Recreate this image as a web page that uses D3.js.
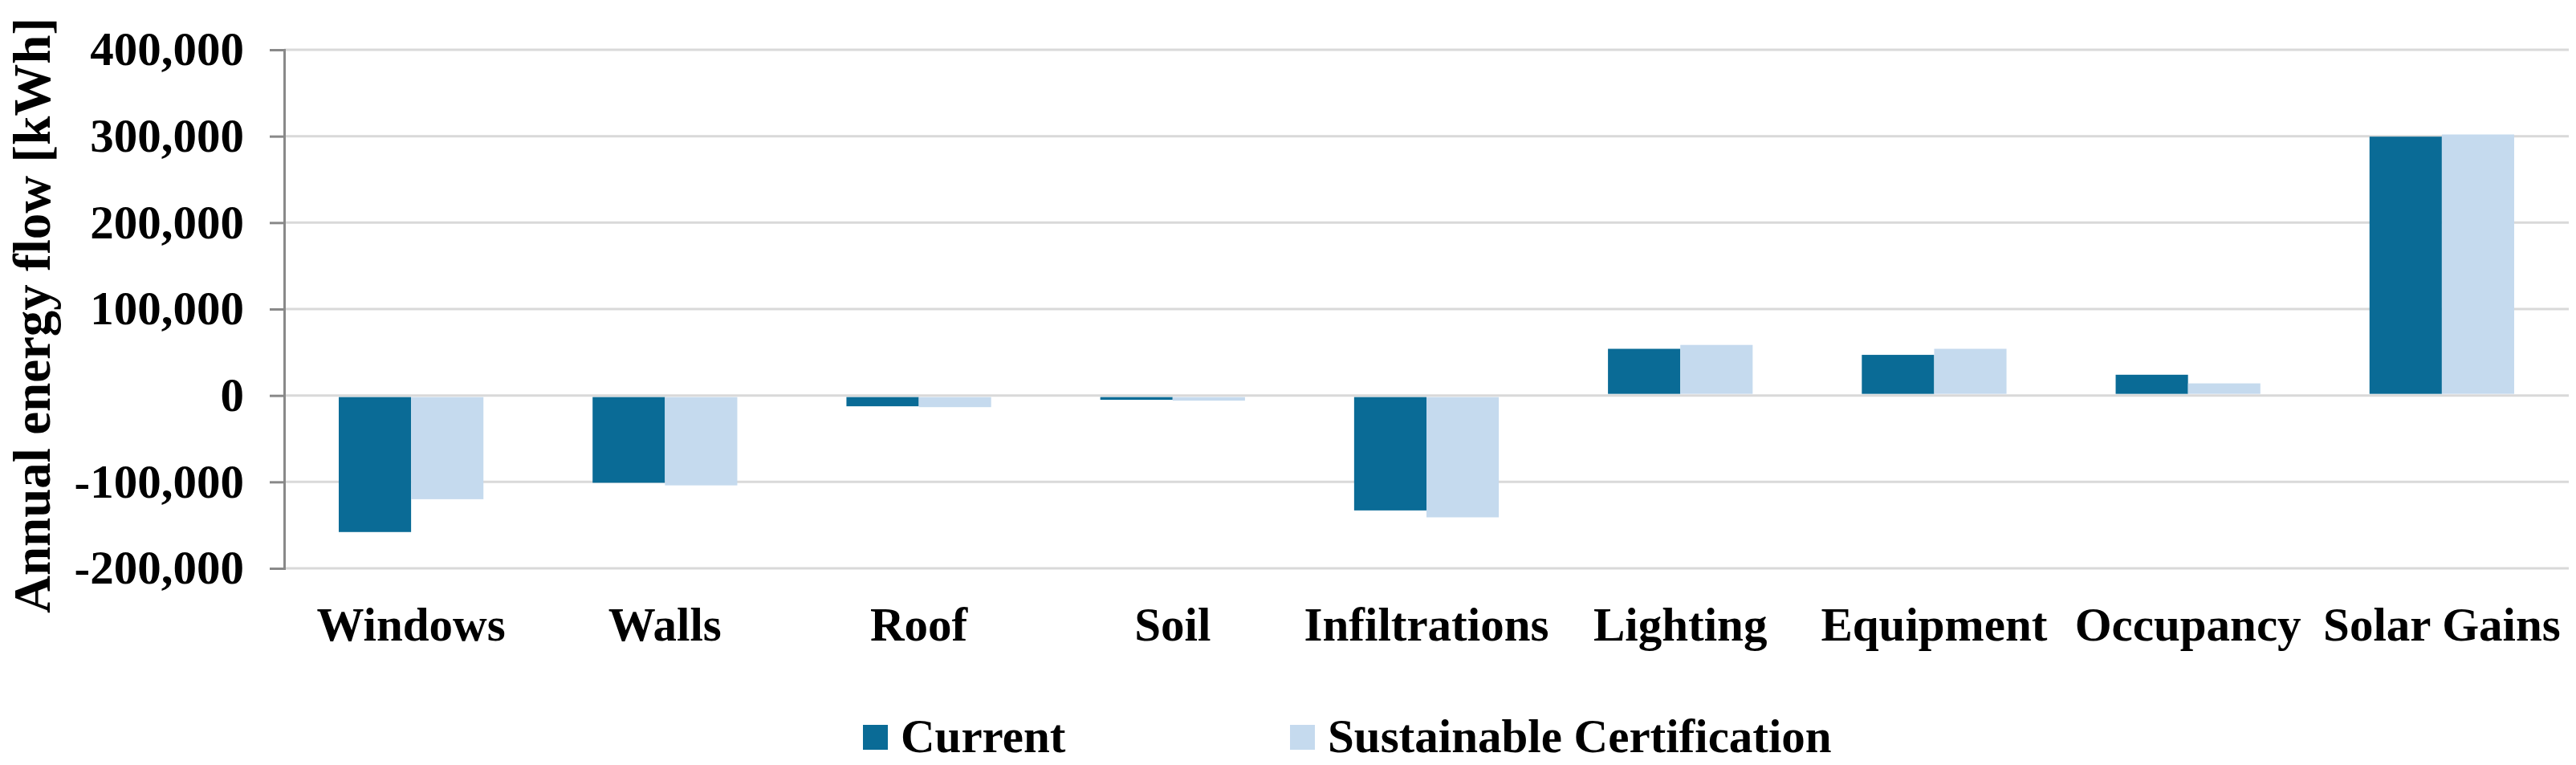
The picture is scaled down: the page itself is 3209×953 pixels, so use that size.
<!DOCTYPE html>
<html>
<head>
<meta charset="utf-8">
<script src="https://cdn.jsdelivr.net/npm/d3@7/dist/d3.min.js"></script>
<style>
  html, body { margin: 0; padding: 0; background: #fff; }
  svg { display: block; font-family: 'Liberation Serif', 'Times New Roman', serif; font-weight: bold; }
</style>
</head>
<body>
<div id="chart"></div>
<script>
const categories = ['Windows', 'Walls', 'Roof', 'Soil', 'Infiltrations', 'Lighting', 'Equipment', 'Occupancy', 'Solar Gains'];
const seriesNames = ['Current', 'Sustainable Certification'];
const currentValues = [-158000, -101000, -12500, -5000, -133000, 54000, 47000, 24000, 299500];
const certValues = [-120000, -104000, -13500, -6000, -141000, 58500, 54000, 14000, 302000];
const yTicks = [-200000, -100000, 0, 100000, 200000, 300000, 400000];

const colors = ['#0a6b96', '#c5daee'];
const width = 3209;
const height = 953;
const margin = { top: 62, right: 9, bottom: 245, left: 354 };

const svg = d3.select('#chart')
  .append('svg')
  .attr('width', width)
  .attr('height', height);

const x = d3.scaleBand()
  .domain(categories)
  .range([margin.left, width - margin.right])
  .padding(0);

const groupWidth = x.bandwidth() * 0.57;
const x1 = d3.scaleBand()
  .domain(seriesNames)
  .range([0, groupWidth])
  .padding(0);

const y = d3.scaleLinear()
  .domain([-200000, 400000])
  .range([height - margin.bottom, margin.top]);

// gridlines
svg.append('g')
  .selectAll('line')
  .data(yTicks)
  .join('line')
  .attr('x1', margin.left)
  .attr('x2', width - margin.right)
  .attr('y1', (d) => y(d))
  .attr('y2', (d) => y(d))
  .attr('stroke', '#d9d9d9')
  .attr('stroke-width', 3);

// bars
const rows = categories.map((c, i) => ({ cat: c, values: [currentValues[i], certValues[i]] }));
svg.append('g')
  .selectAll('g')
  .data(rows)
  .join('g')
  .attr('transform', (d) => `translate(${x(d.cat) + (x.bandwidth() - groupWidth) / 2},0)`)
  .selectAll('rect')
  .data((d) => d.values.map((v, j) => ({ name: seriesNames[j], v, j })))
  .join('rect')
  .attr('x', (d) => x1(d.name))
  .attr('width', x1.bandwidth())
  .attr('y', (d) => (d.v >= 0 ? y(d.v) : y(0) + 2))
  .attr('height', (d) => (d.v >= 0 ? y(0) - y(d.v) - 2 : y(d.v) - y(0) - 2))
  .attr('fill', (d) => colors[d.j]);

// y axis
const yAxis = svg.append('g')
  .attr('transform', `translate(${margin.left},0)`)
  .call(d3.axisLeft(y).tickValues(yTicks).tickSize(18).tickPadding(32)
    .tickFormat((d) => d3.format(',')(d).replace('−', '-')));
yAxis.select('.domain').attr('stroke', '#898989').attr('stroke-width', 3);
yAxis.selectAll('.tick line').attr('stroke', '#898989').attr('stroke-width', 3);
yAxis.selectAll('text')
  .attr('fill', '#000')
  .style('font-size', '59px')
  .style('font-family', "'Liberation Serif', serif")
  .style('font-weight', 'bold');

// category labels
svg.append('g')
  .selectAll('text')
  .data(categories)
  .join('text')
  .attr('x', (d) => x(d) + x.bandwidth() / 2)
  .attr('y', 798)
  .attr('text-anchor', 'middle')
  .style('font-size', '59px')
  .text((d) => d);

// y axis title
svg.append('text')
  .attr('transform', 'translate(62,393) rotate(-90)')
  .attr('text-anchor', 'middle')
  .style('font-size', '65px')
  .text('Annual energy flow [kWh]');

// legend
const legendX = [1075, 1607];
const legend = svg.append('g')
  .selectAll('g')
  .data(seriesNames)
  .join('g')
  .attr('transform', (d, i) => `translate(${legendX[i]},903)`);
legend.append('rect')
  .attr('width', 31)
  .attr('height', 31)
  .attr('fill', (d, i) => colors[i]);
legend.append('text')
  .attr('x', 47)
  .attr('y', 34)
  .style('font-size', '59px')
  .text((d) => d);
</script>
</body>
</html>
